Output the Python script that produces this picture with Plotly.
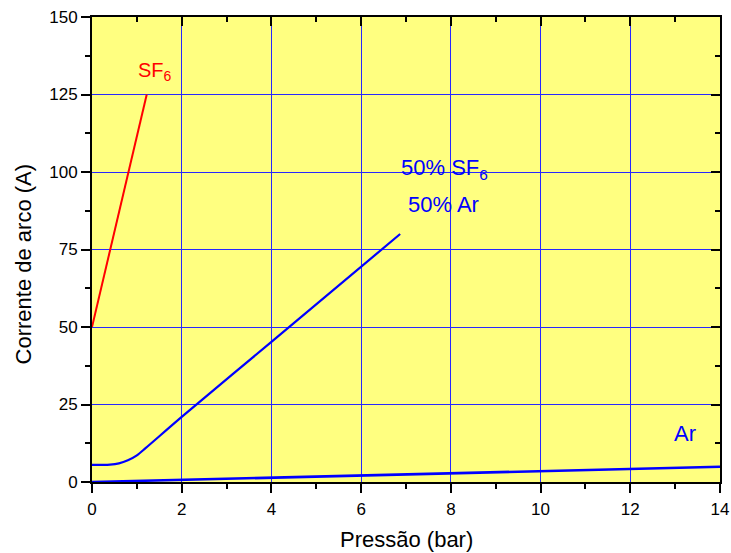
import plotly.graph_objects as go

# Data
sf6_x = [0.0, 1.22]
sf6_y = [50.0, 125.0]

mix_x = [0.0, 0.4, 0.6, 0.8, 1.0, 1.2, 2.0, 4.0, 6.87]
mix_y = [5.5, 5.6, 6.0, 7.0, 8.6, 11.0, 21.0, 45.2, 80.0]

ar_x = [0.0, 14.0]
ar_y = [0.0, 4.9]

x_ticks = [0, 2, 4, 6, 8, 10, 12, 14]
y_ticks = [0, 25, 50, 75, 100, 125, 150]

x_title = "Pressão (bar)"
y_title = "Corrente de arco (A)"

FONT = "Liberation Sans, Arial, sans-serif"

fig = go.Figure()
fig.add_trace(go.Scatter(x=sf6_x, y=sf6_y, mode="lines",
                         line=dict(color="#ff0000", width=2), showlegend=False))
fig.add_trace(go.Scatter(x=mix_x, y=mix_y, mode="lines",
                         line=dict(color="#0000ff", width=2.2, shape="spline", smoothing=0.8),
                         showlegend=False))
fig.add_trace(go.Scatter(x=ar_x, y=ar_y, mode="lines",
                         line=dict(color="#0000ff", width=2.6), showlegend=False))
# invisible trace to host the mirrored (inside-tick) axes
fig.add_trace(go.Scatter(x=[0], y=[0], xaxis="x2", yaxis="y2", mode="markers",
                         marker=dict(opacity=0), showlegend=False, hoverinfo="skip"))

grid_color = "rgb(40,40,255)"
common_x = dict(range=[0, 14], tickvals=x_ticks)
common_y = dict(range=[0, 150], tickvals=y_ticks)

fig.update_layout(
    width=731, height=553,
    margin=dict(l=92, r=11, t=17, b=71),
    paper_bgcolor="white",
    plot_bgcolor="#ffff80",
    font=dict(family=FONT, size=17, color="black"),
    xaxis=dict(**common_x, automargin=False, ticklabelstandoff=2,
               showgrid=True, gridcolor=grid_color, gridwidth=1,
               showline=True, linecolor="black", linewidth=2,
               ticks="outside", ticklen=9, tickwidth=2, tickcolor="black",
               minor=dict(ticks="outside", ticklen=5, tickwidth=2, tickcolor="black",
                          dtick=1, showgrid=False),
               zeroline=False),
    yaxis=dict(**common_y, automargin=False,
               showgrid=True, gridcolor=grid_color, gridwidth=1,
               showline=True, linecolor="black", linewidth=2,
               ticks="outside", ticklen=9, tickwidth=2, tickcolor="black",
               minor=dict(ticks="outside", ticklen=5, tickwidth=2, tickcolor="black",
                          dtick=12.5, showgrid=False),
               zeroline=False),
    xaxis2=dict(**common_x, overlaying="x", side="top", showticklabels=False,
                showgrid=False, zeroline=False, automargin=False,
                showline=True, linecolor="black", linewidth=2,
                ticks="inside", ticklen=9, tickwidth=2, tickcolor="black",
                minor=dict(ticks="inside", ticklen=5, tickwidth=2, tickcolor="black",
                           dtick=1, showgrid=False)),
    yaxis2=dict(**common_y, overlaying="y", side="right", showticklabels=False,
                showgrid=False, zeroline=False, automargin=False,
                showline=True, linecolor="black", linewidth=2,
                ticks="inside", ticklen=9, tickwidth=2, tickcolor="black",
                minor=dict(ticks="inside", ticklen=5, tickwidth=2, tickcolor="black",
                           dtick=12.5, showgrid=False)),
)

# axis titles
fig.add_annotation(x=0.5, y=-0.1247, xref="paper", yref="paper", text=x_title,
                   showarrow=False, xanchor="center", yanchor="middle",
                   font=dict(family=FONT, size=22, color="black"))
fig.add_annotation(x=-0.1099, y=0.47, xref="paper", yref="paper", text=y_title,
                   showarrow=False, textangle=-90, xanchor="center", yanchor="middle",
                   font=dict(family=FONT, size=22, color="black"))

# curve labels
fig.add_annotation(x=1.4, y=132.5, text="SF<sub>6</sub>", showarrow=False,
                   font=dict(family=FONT, size=20, color="#ff0000"))
fig.add_annotation(x=7.85, y=101, text="50% SF<sub>6</sub>", showarrow=False,
                   font=dict(family=FONT, size=22, color="#0000ff"))
fig.add_annotation(x=7.84, y=89.5, text="50% Ar", showarrow=False,
                   font=dict(family=FONT, size=22, color="#0000ff"))
fig.add_annotation(x=13.21, y=15.8, text="Ar", showarrow=False,
                   font=dict(family=FONT, size=22, color="#0000ff"))

fig.write_html("out.html", config={"displayModeBar": False},
               post_script="document.body.style.margin='0';")
